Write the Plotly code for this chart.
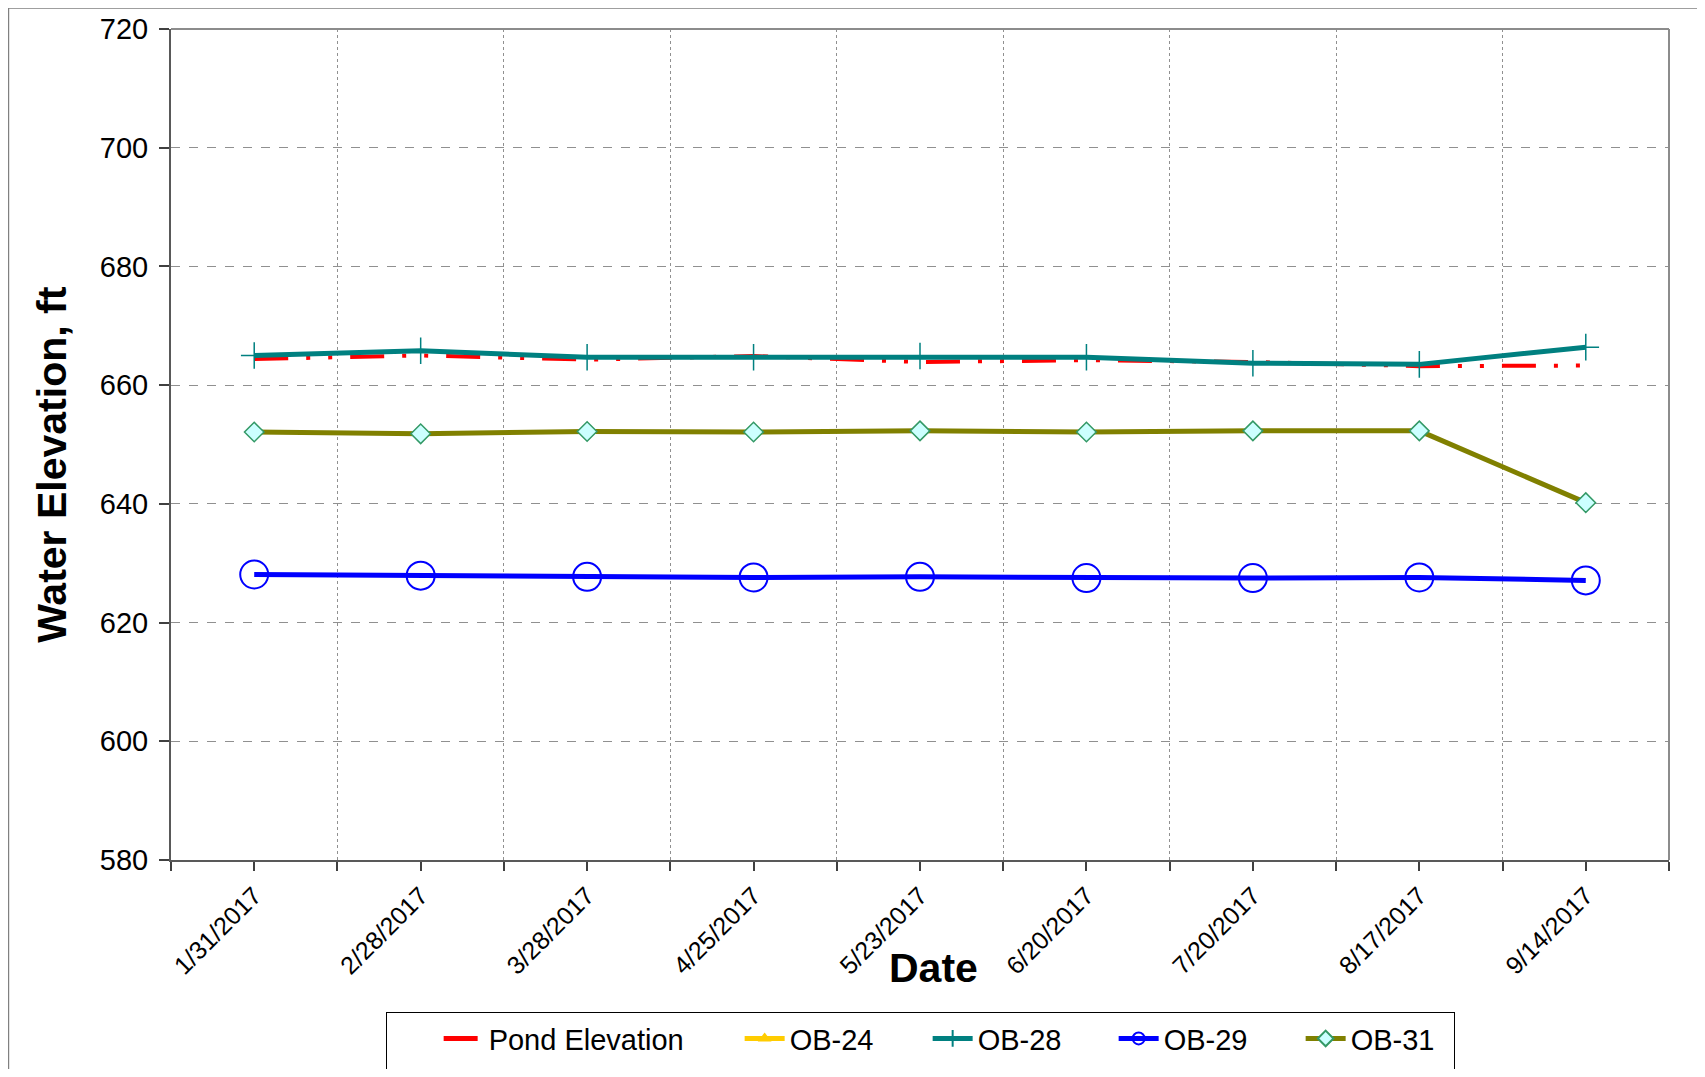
import plotly.graph_objects as go

# -------------------------
# DATA
# -------------------------
dates = ["1/31/2017", "2/28/2017", "3/28/2017", "4/25/2017", "5/23/2017",
         "6/20/2017", "7/20/2017", "8/17/2017", "9/14/2017"]

pond_elevation = [664.4, 665.0, 664.3, 664.9, 663.9, 664.2, 663.9, 663.2, 663.3]
ob_24 = [None, None, None, None, None, None, None, None, None]
ob_28 = [665.0, 665.8, 664.7, 664.7, 664.9, 664.7, 663.7, 663.5, 666.4]
ob_29 = [628.1, 627.9, 627.7, 627.6, 627.7, 627.5, 627.5, 627.6, 627.1]
ob_31 = [652.1, 651.8, 652.2, 652.1, 652.3, 652.1, 652.3, 652.3, 640.2]

y_ticks = [580, 600, 620, 640, 660, 680, 700, 720]

# category positions on a numeric axis so grid sits on the boundaries
x_pos = list(range(len(dates)))

FONT = "Liberation Sans, Arial, sans-serif"

# -------------------------
# TRACES
# -------------------------
pond = go.Scatter(
    x=x_pos, y=pond_elevation, name="Pond Elevation", mode="lines",
    line=dict(color="#FF0000", width=4, dash="34px,18px,4px,18px,4px,18px"),
    legendwidth=246,
)

ob24 = go.Scatter(
    x=x_pos, y=ob_24, name="OB-24", mode="lines+markers",
    line=dict(color="#FFCC00", width=4),
    marker=dict(symbol="triangle-up", size=14, color="#FFCC00"),
    legendwidth=133,
)

ob28 = go.Scatter(
    x=x_pos, y=ob_28, name="OB-28", mode="lines+markers",
    line=dict(color="#008080", width=5),
    marker=dict(symbol="cross-thin", size=19, color="#008080",
                line=dict(color="#008080", width=1.5)),
    legendwidth=131,
)

ob29 = go.Scatter(
    x=x_pos, y=ob_29, name="OB-29", mode="lines+markers",
    line=dict(color="#0000FF", width=5),
    marker=dict(symbol="circle-open", size=28, color="#0000FF",
                line=dict(color="#0000FF", width=2)),
    legendwidth=132,
)

ob31 = go.Scatter(
    x=x_pos, y=ob_31, name="OB-31", mode="lines+markers",
    line=dict(color="#808000", width=5),
    marker=dict(symbol="diamond", size=15, color="#CCFFFF",
                line=dict(color="#339966", width=1.5)),
    legendwidth=98,
)

fig = go.Figure(data=[pond, ob24, ob28, ob29, ob31])

# -------------------------
# LAYOUT
# -------------------------
fig.update_layout(
    width=1689,
    height=1061,
    paper_bgcolor="white",
    plot_bgcolor="white",
    font=dict(family=FONT, size=26, color="black"),
    margin=dict(l=163, r=28, t=21, b=209, autoexpand=False),
    showlegend=True,
    legend=dict(
        orientation="h",
        x=0.1435, xanchor="left",
        y=-0.183, yanchor="top",
        bordercolor="black", borderwidth=1, bgcolor="white",
        font=dict(family=FONT, size=29, color="black"),
        title=dict(text="&nbsp;" * 3, side="left",
                   font=dict(family=FONT, size=50)),
        itemsizing="constant",
        itemwidth=40,
    ),
    xaxis=dict(
        range=[-0.5, len(dates) - 0.5],
        tickmode="array", tickvals=x_pos, ticktext=dates,
        tickangle=-45,
        tickfont=dict(family=FONT, size=25),
        ticks="outside", ticklen=9, tickwidth=1.5, tickcolor="#404040",
        showgrid=False, zeroline=False,
        showline=True, linecolor="#595959", linewidth=2,
        minor=dict(tick0=0.5, dtick=1, ticks="outside", ticklen=9,
                   tickwidth=1.5, tickcolor="#404040",
                   showgrid=True, gridcolor="#909090", griddash="dot",
                   gridwidth=1),
        fixedrange=True,
    ),
    yaxis=dict(
        range=[580, 720],
        tickmode="array", tickvals=y_ticks,
        tickfont=dict(family=FONT, size=29),
        ticks="outside", ticklen=10, tickwidth=1.5, tickcolor="#404040",
        ticklabelstandoff=5,
        showgrid=True, gridcolor="#909090", griddash="dash", gridwidth=1,
        zeroline=False,
        showline=True, linecolor="#595959", linewidth=2,
        fixedrange=True,
    ),
    annotations=[
        dict(text="<b>Date</b>", xref="paper", yref="paper",
             x=0.5087, y=-0.130, xanchor="center", yanchor="middle",
             showarrow=False,
             font=dict(family=FONT, size=41, color="black")),
        dict(text="<b>Water Elevation, ft</b>", xref="paper", yref="paper",
             x=-0.0794, y=0.4756, xanchor="center", yanchor="middle",
             textangle=-90, showarrow=False,
             font=dict(family=FONT, size=41, color="black")),
    ],
    shapes=[
        # top / right frame of plot area
        dict(type="line", xref="paper", yref="paper", x0=0, x1=1, y0=1, y1=1,
             line=dict(color="#8C8C8C", width=2)),
        dict(type="line", xref="paper", yref="paper", x0=1, x1=1, y0=0, y1=1,
             line=dict(color="#8C8C8C", width=2)),
        # chart area border
        dict(type="rect", xref="paper", yref="paper",
             x0=-0.1085, x1=1.2, y0=-0.4, y1=1.0253,
             line=dict(color="#808080", width=1.5), layer="below"),
    ],
)

fig.write_html("out.html")
